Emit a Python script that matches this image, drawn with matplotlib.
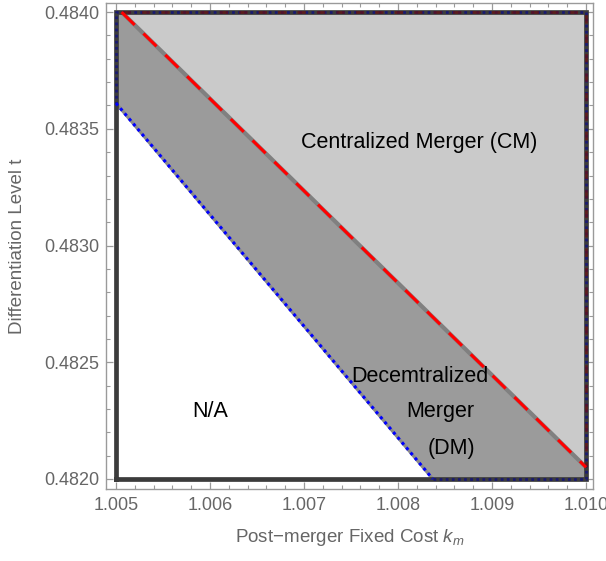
import matplotlib.pyplot as plt
from matplotlib.ticker import MultipleLocator, FormatStrFormatter

plt.rcParams['font.family'] = ['Liberation Sans', 'DejaVu Sans']
plt.rcParams['mathtext.fontset'] = 'custom'
plt.rcParams['mathtext.it'] = 'Liberation Sans:italic'
plt.rcParams['mathtext.rm'] = 'Liberation Sans'

# region box
km_range = [1.005, 1.010]
t_range = [0.4820, 0.4840]

# boundary CM / DM (red dashed)
cm_km = [1.00506, 1.0100]
cm_t = [0.4840, 0.48205]

# boundary DM / N/A (blue dotted)
dm_km = [1.0050, 1.00837]
dm_t = [0.48361, 0.4820]

region_labels = ["Centralized Merger (CM)", "N/A", "Decemtralized", "Merger", "(DM)"]
label_km = [1.00823, 1.00600, 1.00823, 1.00845, 1.00857]
label_t = [0.48344, 0.48229, 0.48244, 0.48229, 0.48213]

axis_gray = "#9a9a9a"
text_gray = "#666666"

fig = plt.figure(figsize=(6.06, 5.61), dpi=100)
ax = fig.add_axes([106 / 606, 72 / 561, 487 / 606, 486 / 561])

x0, x1 = km_range
y0, y1 = t_range

# filled regions
cm_x = [cm_km[0], cm_km[1], x1]
cm_y = [cm_t[0], cm_t[1], y1]
ax.fill(cm_x, cm_y, color="#cacaca", lw=0, zorder=1)

dm_x = [x0, cm_km[0], cm_km[1], x1, dm_km[1], dm_km[0]]
dm_y = [y1, cm_t[0], cm_t[1], y0, dm_t[1], dm_t[0]]
ax.fill(dm_x, dm_y, color="#9b9b9b", lw=0, zorder=1)

# region edges
ax.plot(cm_km, cm_t, color="#808080", lw=3, zorder=2, solid_capstyle="butt")
ax.plot(dm_km, dm_t, color="#8a8a8a", lw=2.2, zorder=2, solid_capstyle="butt")

# outer frame
ax.plot([x0, x1, x1, x0, x0], [y0, y0, y1, y1, y0], color="#3c3c3c", lw=3.4,
        zorder=3, solid_joinstyle="miter")

# dotted DM boundary running along the frame
ax.plot([dm_km[1], x1, x1, x0, x0], [y0, y0, y1, y1, dm_t[0]],
        color="#1a1a70", lw=2.0, ls=(0, (1, 1.2)), zorder=4)
ax.plot([cm_km[0], x1, x1], [y1, y1, cm_t[1]],
        color="#6a1010", lw=2.0, ls=(0, (3, 4)), zorder=4, alpha=0.7)

ax.plot(cm_km, cm_t, color="#ff0000", lw=2.2, ls=(0, (6, 4)), zorder=5)
ax.plot(dm_km, dm_t, color="#0000ff", lw=2.2, ls=(0, (1, 1.2)), zorder=5)

for s, kx, ty in zip(region_labels, label_km, label_t):
    ax.text(kx, ty, s, ha="center", va="center", fontsize=15.5, color="black", zorder=6)

ax.set_xlim(1.004894, 1.010074)
ax.set_ylim(0.481957, 0.484039)

ax.xaxis.set_major_locator(MultipleLocator(0.001))
ax.xaxis.set_minor_locator(MultipleLocator(0.0002))
ax.yaxis.set_major_locator(MultipleLocator(0.0005))
ax.yaxis.set_minor_locator(MultipleLocator(0.0001))
ax.xaxis.set_major_formatter(FormatStrFormatter("%.3f"))
ax.yaxis.set_major_formatter(FormatStrFormatter("%.4f"))

ax.tick_params(which="both", direction="in", top=True, right=True, color=axis_gray,
               labelcolor=text_gray, labelsize=13)
ax.tick_params(which="major", length=5, width=0.9)
ax.tick_params(which="minor", length=3, width=0.8)
ax.tick_params(axis="x", pad=6)
ax.tick_params(axis="y", pad=5)
for sp in ax.spines.values():
    sp.set_color(axis_gray)
    sp.set_linewidth(1.0)

ax.set_xlabel("Post\u2212merger Fixed Cost $k_m$", color=text_gray, fontsize=13.5, labelpad=9)
ax.set_ylabel("Differentiation Level t", color=text_gray, fontsize=13.5, labelpad=13)

fig.savefig("out.png", dpi=100)
